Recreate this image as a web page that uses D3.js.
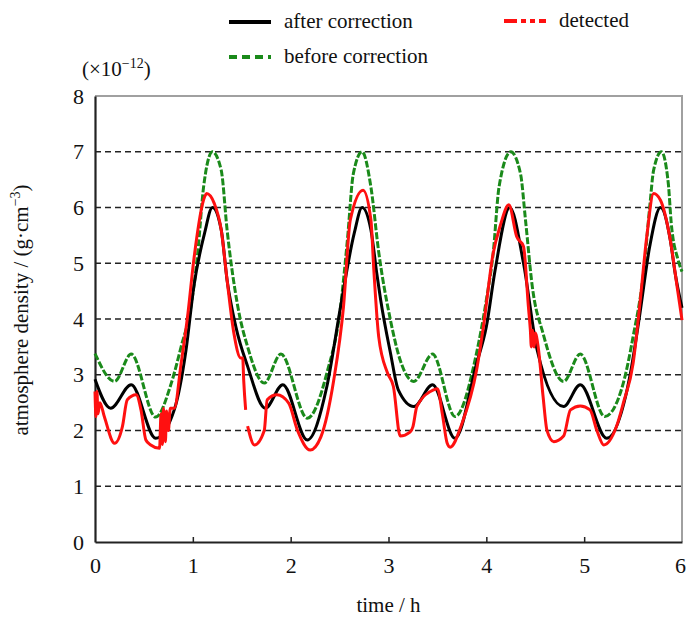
<!DOCTYPE html>
<html>
<head>
<meta charset="utf-8">
<script src="https://cdn.jsdelivr.net/npm/d3@7"></script>
<style>
body { margin: 0; background: #fff; }
svg text { font-family: "Times New Roman", "Liberation Serif", "DejaVu Serif", serif !important; fill: #111; }
</style>
</head>
<body>
<script>
var width = 686,
    height = 617;

// after correction (black)
var afterT = [0, 0.16, 0.37, 0.62, 0.81, 0.93, 1.01, 1.12, 1.2, 1.29, 1.35, 1.44, 1.56, 1.74, 1.92, 2.17, 2.37, 2.51, 2.65, 2.73, 2.82, 2.88, 2.92, 3.02, 3.1, 3.26, 3.45, 3.68, 3.9, 4.0, 4.09, 4.24, 4.38, 4.52, 4.79, 4.96, 5.23, 5.47, 5.57, 5.67, 5.78, 5.88, 5.93, 6.0];
var afterV = [2.92, 2.4, 2.82, 1.86, 2.37, 3.44, 4.58, 5.54, 6.0, 5.6, 4.7, 3.86, 3.15, 2.4, 2.82, 1.83, 2.79, 4.22, 5.54, 6.0, 5.6, 4.82, 4.34, 3.39, 2.73, 2.43, 2.82, 1.86, 3.2, 3.86, 4.88, 6.0, 5.0, 3.44, 2.43, 2.82, 1.86, 3.0, 4.1, 5.3, 6.0, 5.42, 4.82, 4.2];

// before correction (green)
var beforeT = [0, 0.2, 0.37, 0.62, 0.78, 0.88, 0.98, 1.05, 1.11, 1.2, 1.29, 1.35, 1.46, 1.56, 1.73, 1.9, 2.17, 2.37, 2.51, 2.58, 2.64, 2.73, 2.82, 2.9, 3.02, 3.12, 3.26, 3.45, 3.68, 3.9, 4.0, 4.07, 4.13, 4.25, 4.35, 4.4, 4.47, 4.58, 4.79, 4.96, 5.21, 5.4, 5.5, 5.61, 5.67, 5.71, 5.79, 5.86, 5.89, 5.96, 6.0];
var beforeV = [3.38, 2.88, 3.37, 2.24, 2.85, 3.5, 4.22, 5.18, 6.37, 7.0, 6.67, 5.6, 4.22, 3.5, 2.85, 3.37, 2.22, 3.03, 4.22, 5.42, 6.6, 7.0, 6.37, 5.2, 3.98, 3.26, 2.88, 3.37, 2.25, 3.39, 4.34, 5.18, 6.37, 7.0, 6.6, 5.78, 4.58, 3.74, 2.88, 3.37, 2.25, 2.85, 3.68, 4.88, 6.01, 6.67, 7.0, 6.43, 5.72, 5.06, 4.85];

// detected (red), null = gap in the record
var detectedT = [0, 0.01, 0.02, 0.03, 0.05, 0.095, 0.2, 0.28, 0.33, 0.42, 0.47, 0.52, 0.57, 0.66, 0.675, 0.69, 0.70, 0.72, 0.73, 0.75, 0.77, 0.81, 0.88, 0.95, 1.01, 1.12, 1.14, 1.22, 1.29, 1.35, 1.42, 1.49, 1.51, 1.52, 1.54, 1.55, 1.56, 1.63, 1.73, 1.76, 1.86, 1.98, 2.07, 2.2, 2.31, 2.44, 2.54, 2.61, 2.74, 2.82, 2.85, 2.9, 2.99, 3.05, 3.12, 3.22, 3.25, 3.29, 3.46, 3.5, 3.55, 3.6, 3.63, 3.75, 3.9, 3.97, 4.07, 4.14, 4.23, 4.31, 4.38, 4.43, 4.45, 4.46, 4.47, 4.49, 4.5, 4.53, 4.58, 4.62, 4.69, 4.79, 4.86, 4.96, 5.06, 5.13, 5.2, 5.33, 5.4, 5.5, 5.57, 5.64, 5.71, 5.78, 5.88, 5.95, 6.0];
var detectedV = [2.7, 2.25, 2.7, 2.3, 2.5, 2.25, 1.77, 2.07, 2.55, 2.64, 2.37, 1.83, 1.74, 1.68, 2.3, 1.75, 2.4, 1.8, 2.35, 2.0, 2.4, 2.4, 3.2, 4.1, 5.06, 6.19, 6.25, 6.07, 5.6, 4.7, 3.74, 3.3, 3.3, 2.9, 2.37, null, 2.08, 1.74, 2.0, 2.55, 2.64, 2.49, 2.0, 1.65, 1.89, 2.9, 4.22, 5.78, 6.31, 5.78, 4.88, 3.68, 3.03, 2.79, 1.9, 1.97, 2.07, 2.43, 2.73, 2.75, 2.3, 1.77, 1.7, 2.12, 3.08, 3.86, 5.18, 5.66, 6.05, 5.48, 5.3, 4.22, 3.8, 3.5, 3.8, 3.5, 3.75, 3.5, 2.61, 2.0, 1.8, 1.9, 2.37, 2.44, 2.37, 2.0, 1.74, 2.07, 2.49, 3.2, 4.28, 5.48, 6.25, 6.13, 5.42, 4.58, 3.98];

var xTicks = [0, 1, 2, 3, 4, 5, 6];
var yTicks = [0, 1, 2, 3, 4, 5, 6, 7, 8];
var gridValues = [1, 2, 3, 4, 5, 6, 7];

var margin = {left: 95, right: 4, top: 96, bottom: 75};
var serif = '"Times New Roman", "Liberation Serif", "DejaVu Serif", serif';

var svg = d3.select('body')
    .append('svg')
    .attr('width', width)
    .attr('height', height)
    .style('font-family', serif);

var x = d3.scaleLinear()
    .domain([0, 6])
    .range([margin.left, width - margin.right]);

var y = d3.scaleLinear()
    .domain([0, 8])
    .range([height - margin.bottom, margin.top]);

// grid
svg.append('g')
    .selectAll('line')
    .data(gridValues).enter()
    .append('line')
    .attr('x1', x(0))
    .attr('x2', x(6))
    .attr('y1', d => y(d))
    .attr('y2', d => y(d))
    .attr('stroke', '#222')
    .attr('stroke-width', 1.6)
    .attr('stroke-dasharray', '6,4');

// frame: grey top and right, black left and bottom
svg.append('path')
    .attr('d', 'M' + x(0) + ',' + y(8) + 'H' + x(6) + 'V' + y(0))
    .attr('fill', 'none')
    .attr('stroke', '#a0a0a0')
    .attr('stroke-width', 2);

var xAxis = svg.append('g')
    .attr('transform', 'translate(0,' + y(0) + ')')
    .call(d3.axisBottom(x).tickValues(xTicks).tickFormat(d3.format('d'))
        .tickSizeInner(-5).tickSizeOuter(0).tickPadding(15));

var yAxis = svg.append('g')
    .attr('transform', 'translate(' + x(0) + ',0)')
    .call(d3.axisLeft(y).tickValues(yTicks).tickFormat(d3.format('d'))
        .tickSize(0).tickPadding(11));

[xAxis, yAxis].forEach(function(g) {
    g.attr('font-family', serif);
    g.select('.domain').attr('stroke', '#222').attr('stroke-width', 2.2);
    g.selectAll('.tick line').attr('stroke', '#222').attr('stroke-width', 1.5);
    g.selectAll('.tick text')
        .style('font-family', serif)
        .style('font-size', '22px')
        .attr('fill', '#111');
});
xAxis.selectAll('.tick').filter(d => d === 0 || d === 6).select('line').remove();
xAxis.selectAll('.tick text').attr('dy', '0.72em');
xAxis.selectAll('.tick').filter(d => d === 6).select('text').attr('dx', -2);

function series(ts, vs) {
    return ts.map((t, i) => [t, vs[i]]);
}

var line = d3.line()
    .defined(d => d[1] !== null)
    .curve(d3.curveMonotoneX)
    .x(d => x(d[0]))
    .y(d => y(d[1]));

var curves = [
    {data: series(beforeT, beforeV), color: '#1a8a1a', dash: '7,2'},
    {data: series(afterT, afterV), color: '#000', dash: null},
    {data: series(detectedT, detectedV), color: '#ff1010', dash: null}
];

svg.append('g')
    .selectAll('path')
    .data(curves).enter()
    .append('path')
    .attr('d', d => line(d.data))
    .attr('fill', 'none')
    .attr('stroke', d => d.color)
    .attr('stroke-width', 3)
    .attr('stroke-linejoin', 'round')
    .attr('stroke-dasharray', d => d.dash);

// legend
var legend = [
    {label: 'after correction', color: '#000', dash: null, lx: 229, ly: 22},
    {label: 'detected', color: '#ff1010', dash: '13,4,5,4,5,4', lx: 504, ly: 21},
    {label: 'before correction', color: '#1a8a1a', dash: '8,5', lx: 229, ly: 57}
];

var items = svg.append('g')
    .selectAll('g')
    .data(legend).enter()
    .append('g')
    .attr('transform', d => 'translate(' + d.lx + ',' + d.ly + ')');

items.append('line')
    .attr('x1', 0)
    .attr('x2', 42)
    .attr('stroke', d => d.color)
    .attr('stroke-width', 4)
    .attr('stroke-dasharray', d => d.dash);

items.append('text')
    .attr('x', 55)
    .attr('y', 6)
    .style('font-size', '21px')
    .text(d => d.label);

// unit multiplier
var unit = svg.append('text')
    .attr('x', 82)
    .attr('y', 76)
    .style('font-size', '21px');
unit.append('tspan').text('(×10');
unit.append('tspan').attr('dy', -8).style('font-size', '14px').text('−12');
unit.append('tspan').attr('dy', 8).text(')');

// axis titles
svg.append('text')
    .attr('x', x(3))
    .attr('y', 612)
    .attr('text-anchor', 'middle')
    .style('font-size', '21px')
    .text('time / h');

var ylab = svg.append('text')
    .attr('transform', 'translate(28,310) rotate(-90)')
    .attr('text-anchor', 'middle')
    .style('font-size', '21px');
ylab.append('tspan').text('atmosphere density / (g·cm');
ylab.append('tspan').attr('dy', -8).style('font-size', '14px').text('−3');
ylab.append('tspan').attr('dy', 8).text(')');
</script>
</body>
</html>
